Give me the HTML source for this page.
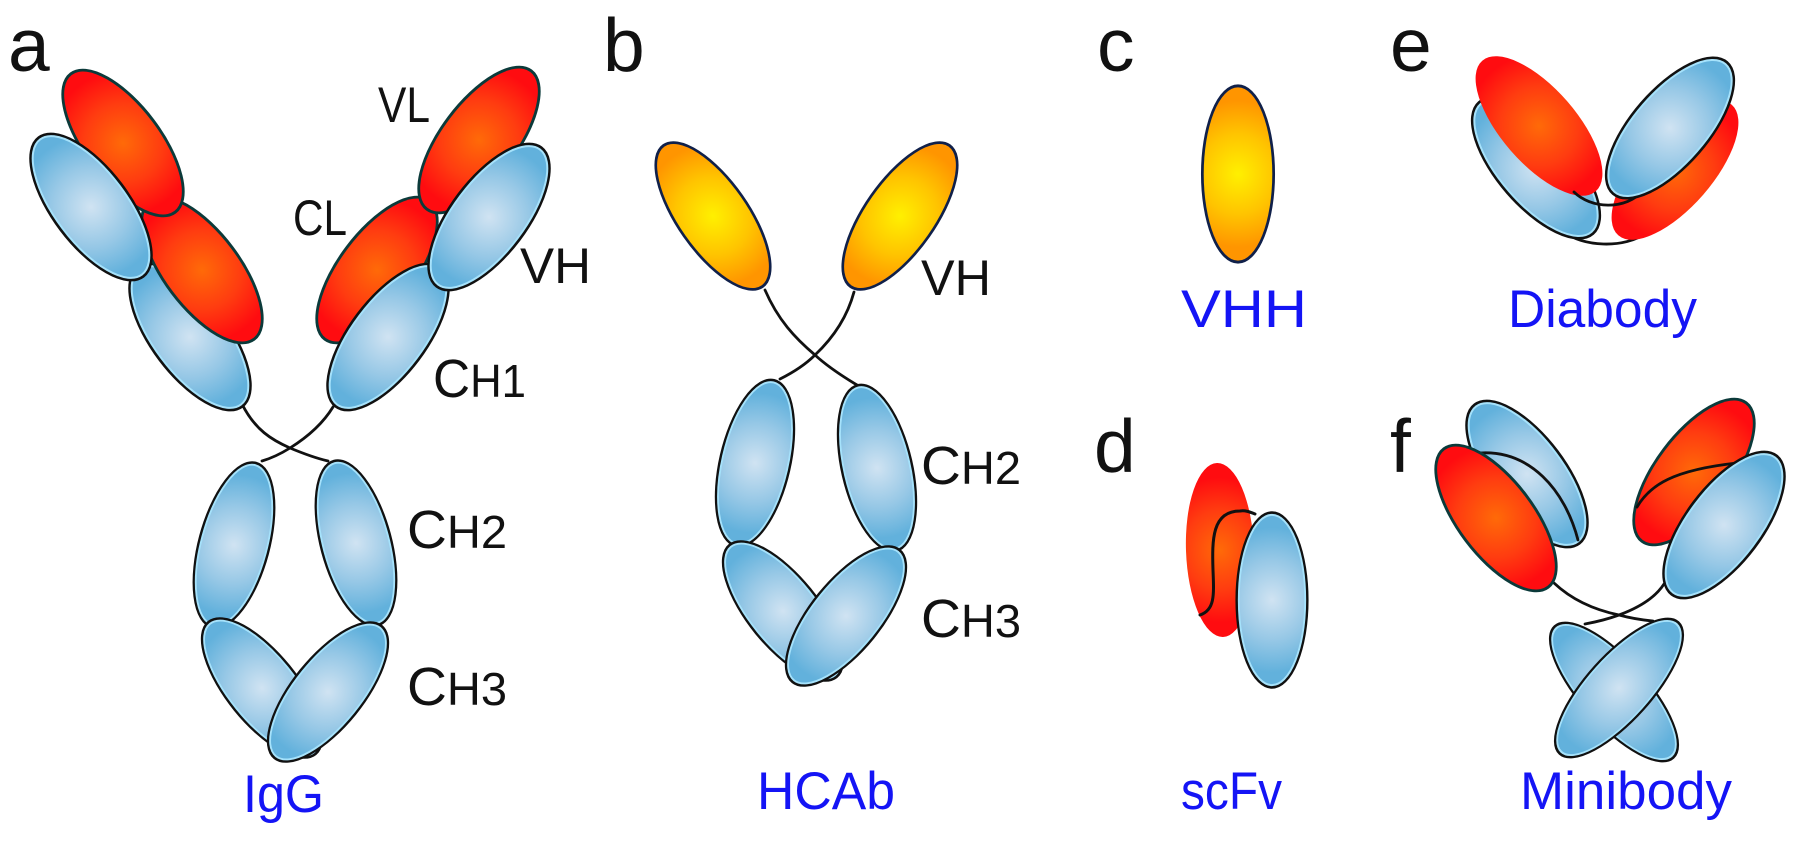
<!DOCTYPE html>
<html><head><meta charset="utf-8"><style>
html,body{margin:0;padding:0;background:#fff}
svg{display:block}
.l{font-family:"Liberation Sans",sans-serif;font-size:75px;fill:#111}
.t{font-family:"Liberation Sans",sans-serif;font-size:50px;fill:#111}
.u{font-family:"Liberation Sans",sans-serif;font-size:54px;fill:#111}
.s{font-size:46px}
.b{font-family:"Liberation Sans",sans-serif;font-size:53px;fill:#1414f5}
.h{fill:none;stroke:#111;stroke-width:2.8;stroke-linecap:round}
</style></head><body>
<svg width="1800" height="841" viewBox="0 0 1800 841" xmlns="http://www.w3.org/2000/svg">
<defs>
<radialGradient id="gb" gradientUnits="userSpaceOnUse" cx="0" cy="0" r="72"><stop offset="0" stop-color="#d0e3f2"/><stop offset=".55" stop-color="#97c8e6"/><stop offset="1" stop-color="#62b1dc"/></radialGradient>
<radialGradient id="gr" gradientUnits="userSpaceOnUse" cx="0" cy="0" r="72"><stop offset="0" stop-color="#ff6a08"/><stop offset=".55" stop-color="#ff3c10"/><stop offset="1" stop-color="#ff0c10"/></radialGradient>
<radialGradient id="gy" gradientUnits="userSpaceOnUse" cx="0" cy="0" r="72"><stop offset="0" stop-color="#fff000"/><stop offset=".55" stop-color="#ffc400"/><stop offset="1" stop-color="#ff9500"/></radialGradient>
<g id="B"><ellipse rx="37.5" ry="86.5" fill="#111" stroke="#111" stroke-width="3.4"/><ellipse rx="35.6" ry="84.6" fill="url(#gb)" stroke="#a6e2fb" stroke-width="2"/></g>
<g id="R"><ellipse rx="37.5" ry="86.5" fill="#111" stroke="#0b3a3a" stroke-width="3.2"/><ellipse rx="36.2" ry="85.2" fill="url(#gr)"/></g>
<g id="Y"><ellipse rx="37.5" ry="86.5" fill="#111" stroke="#10204a" stroke-width="3.2"/><ellipse rx="36.2" ry="85.2" fill="url(#gy)"/></g>
<ellipse id="N" rx="37.5" ry="86.5" fill="url(#gr)"/>
</defs>

<!-- panel a -->
<path class="h" d="M242,404 C255,430 272,440 290,448 C302,453 315,458 328,461"/>
<path class="h" d="M333,407 C322,425 306,438 290,448 C282,453 272,458 262,461"/>
<use href="#B" transform="translate(190 337) rotate(-37)"/>
<use href="#R" transform="translate(202 270) rotate(-37)"/>
<use href="#R" transform="translate(123 143) rotate(-37)"/>
<use href="#B" transform="translate(91 207) rotate(-37)"/>
<use href="#R" transform="translate(377 270) rotate(37)"/>
<use href="#R" transform="translate(479 140) rotate(37)"/>
<use href="#B" transform="translate(388 337) rotate(37)"/>
<use href="#B" transform="translate(489 217) rotate(37)"/>
<use href="#B" transform="translate(234 545) rotate(15) scale(.92 .977)"/>
<use href="#B" transform="translate(356 543) rotate(-15) scale(.92 .977)"/>
<use href="#B" transform="translate(262 688) rotate(-39) scale(.92 .977)"/>
<use href="#B" transform="translate(328 692) rotate(39) scale(.92 .977)"/>

<!-- panel b -->
<path class="h" d="M765,290 C778,320 795,338 815,355 C828,367 842,376 857,385"/>
<path class="h" d="M854,292 C847,318 833,338 815,355 C806,364 794,372 780,379"/>
<use href="#Y" transform="translate(713 216) rotate(-35) scale(.933 .994)"/>
<use href="#Y" transform="translate(900 216) rotate(35) scale(.933 .994)"/>
<use href="#B" transform="translate(755 463) rotate(13) scale(.92 .977)"/>
<use href="#B" transform="translate(877 468) rotate(-13) scale(.92 .977)"/>
<use href="#B" transform="translate(783 611) rotate(-39) scale(.92 .977)"/>
<use href="#B" transform="translate(846 616) rotate(39) scale(.92 .977)"/>

<!-- panel c -->
<use href="#Y" transform="translate(1238 174) scale(.947 1.017)"/>

<!-- panel d -->
<use href="#N" transform="translate(1220 550) rotate(-2) scale(.907 1.006)"/>
<path class="h" style="stroke-width:3" d="M1200,615 C1215,610 1214,595 1213,570 C1212,540 1212,511 1240,511 C1245,510 1250,512 1255,514"/>
<use href="#B" transform="translate(1272 600) scale(.933 1.006)"/>

<!-- panel e -->
<path class="h" d="M1565,232 C1580,246 1625,250 1647,232"/>
<use href="#N" transform="translate(1675 170) rotate(41)"/>
<use href="#B" transform="translate(1536 168) rotate(-41)"/>
<use href="#N" transform="translate(1539 126) rotate(-41)"/>
<path class="h" d="M1574,192 C1590,208 1625,212 1645,189"/>
<use href="#B" transform="translate(1670 128) rotate(41)"/>

<!-- panel f -->
<path class="h" d="M1554,583 C1572,600 1595,610 1619,615 C1630,618 1642,620 1653,621"/>
<path class="h" d="M1664,584 C1655,598 1638,608 1619,615 C1608,619 1596,622 1585,624"/>
<use href="#B" transform="translate(1527 474) rotate(-37)"/>
<path class="h" d="M1480,453 C1530,450 1565,490 1578,540"/>
<use href="#R" transform="translate(1496 518) rotate(-37)"/>
<use href="#R" transform="translate(1694 472) rotate(37)"/>
<path class="h" d="M1637,507 C1650,485 1673,470 1737,463"/>
<use href="#B" transform="translate(1724 525) rotate(37)"/>
<use href="#B" transform="translate(1614 692) rotate(-42) scale(.853 1.017)"/>
<use href="#B" transform="translate(1619 688) rotate(42) scale(.853 1.017)"/>

<!-- panel letters -->
<text class="l" x="8" y="71">a</text>
<text class="l" x="603" y="71">b</text>
<text class="l" x="1097" y="71">c</text>
<text class="l" x="1390" y="71">e</text>
<text class="l" x="1094" y="472">d</text>
<text class="l" x="1390" y="472">f</text>

<!-- black labels -->
<text class="t" x="378" y="122" textLength="52" lengthAdjust="spacingAndGlyphs">VL</text>
<text class="t" x="293" y="235" textLength="54" lengthAdjust="spacingAndGlyphs">CL</text>
<text class="t" x="520" y="283" textLength="71" lengthAdjust="spacingAndGlyphs">VH</text>
<text class="u" x="433" y="397" textLength="93" lengthAdjust="spacingAndGlyphs">C<tspan class="s">H1</tspan></text>
<text class="u" x="407" y="548" textLength="100" lengthAdjust="spacingAndGlyphs">C<tspan class="s">H2</tspan></text>
<text class="u" x="407" y="705" textLength="100" lengthAdjust="spacingAndGlyphs">C<tspan class="s">H3</tspan></text>
<text class="t" x="921" y="295" textLength="70" lengthAdjust="spacingAndGlyphs">VH</text>
<text class="u" x="921" y="484" textLength="100" lengthAdjust="spacingAndGlyphs">C<tspan class="s">H2</tspan></text>
<text class="u" x="921" y="637" textLength="100" lengthAdjust="spacingAndGlyphs">C<tspan class="s">H3</tspan></text>

<!-- blue labels -->
<text class="b" x="243" y="812" textLength="81" lengthAdjust="spacingAndGlyphs">IgG</text>
<text class="b" x="757" y="809" textLength="138" lengthAdjust="spacingAndGlyphs">HCAb</text>
<text class="b" x="1181" y="327" textLength="126" lengthAdjust="spacingAndGlyphs">VHH</text>
<text class="b" x="1181" y="809" textLength="101" lengthAdjust="spacingAndGlyphs">scFv</text>
<text class="b" x="1508" y="327" textLength="189" lengthAdjust="spacingAndGlyphs">Diabody</text>
<text class="b" x="1520" y="809" textLength="212" lengthAdjust="spacingAndGlyphs">Minibody</text>
</svg>
</body></html>
